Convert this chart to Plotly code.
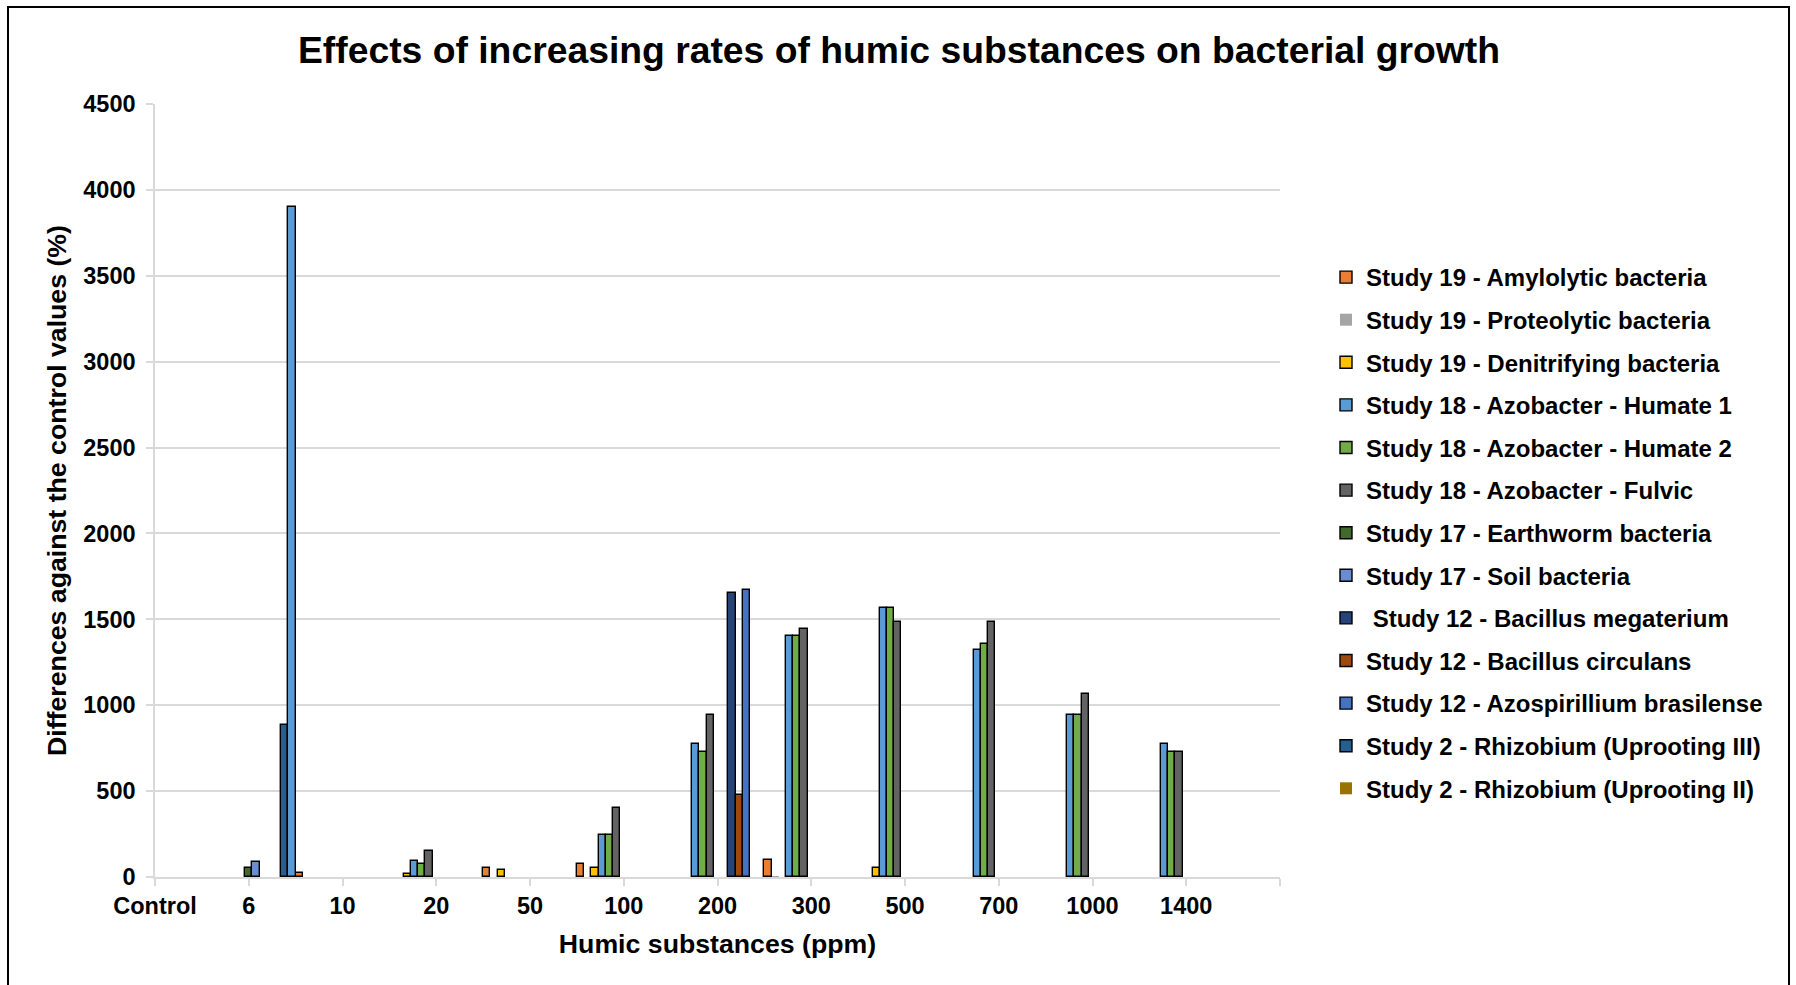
import plotly.graph_objects as go

categories = ["Control", "6", "10", "20", "50", "100", "200", "300", "500", "700", "1000", "1400"]

series_names = [
    "Study 19 - Amylolytic bacteria",
    "Study 19 - Proteolytic bacteria",
    "Study 19 - Denitrifying bacteria",
    "Study 18 - Azobacter - Humate 1",
    "Study 18 - Azobacter - Humate 2",
    "Study 18 - Azobacter - Fulvic",
    "Study 17 - Earthworm bacteria",
    "Study 17 - Soil bacteria",
    "\u00a0Study 12 - Bacillus megaterium",
    "Study 12 - Bacillus circulans",
    "Study 12 - Azospirillium brasilense",
    "Study 2 - Rhizobium (Uprooting III)",
    "Study 2 - Rhizobium (Uprooting II)",
]

N = None
amylolytic   = [N, N, 22, N, 50, 76, N, 99, N, N, N, N]
proteolytic  = [N, N, N, N, N, N, N, 4, N, N, N, N]
denitrifying = [N, N, N, 20, 39, 50, N, N, 50, N, N, N]
humate1      = [N, N, N, 91, N, 245, 776, 1403, 1568, 1319, 942, 776]
humate2      = [N, N, N, 78, N, 245, 730, 1403, 1568, 1358, 942, 730]
fulvic       = [N, N, N, 154, N, 399, 942, 1442, 1486, 1484, 1066, 730]
earthworm    = [N, 50, N, N, N, N, N, N, N, N, N, N]
soil         = [N, 86, N, N, N, N, N, N, N, N, N, N]
megaterium   = [N, N, N, N, N, N, 1656, N, N, N, N, N]
circulans    = [N, N, N, N, N, N, 477, N, N, N, N, N]
azospirillum = [N, N, N, N, N, N, 1669, N, N, N, N, N]
uprooting3   = [N, 883, N, N, N, N, N, N, N, N, N, N]
uprooting2   = [N, 3900, N, N, N, N, N, N, N, N, N, N]

series_values = [amylolytic, proteolytic, denitrifying, humate1, humate2, fulvic,
                 earthworm, soil, megaterium, circulans, azospirillum, uprooting3, uprooting2]

legend_colors = ["#ED7D31", "#A5A5A5", "#FFC000", "#5B9BD5", "#70AD47", "#636363",
                 "#43682B", "#698ED0", "#264478", "#9E480E", "#4472C4", "#255E91", "#997300"]
# colour actually used for the bar of the last series
uprooting2_bar_color = "#5B9BD5"
outlined = [True, False, True, True, True, True, True, True, True, True, True, True, False]

FONT = "Liberation Sans, Arial, sans-serif"
LW = 1.4

fig = go.Figure()
xs = list(range(len(categories)))
for i, (name, vals) in enumerate(zip(series_names, series_values)):
    if i == 12:
        colors = [legend_colors[i]] + [uprooting2_bar_color] * (len(vals) - 1)
        widths = [0] + [LW] * (len(vals) - 1)
        marker = dict(color=colors, line=dict(color="black", width=widths))
    else:
        marker = dict(color=legend_colors[i],
                      line=dict(color="black", width=LW if outlined[i] else 0))
    fig.add_trace(go.Bar(x=xs, y=vals, name=name, legendgroup=str(i), marker=marker))

W, H = 1796, 985
L, R, T, B = 155, 1280, 104, 877
pw, ph = R - L, B - T

def px(x):
    return (x - L) / pw

def py(y):
    return (B - y) / ph

fig.update_layout(
    width=W, height=H,
    margin=dict(l=L, r=W - R, t=T, b=H - B, pad=0),
    paper_bgcolor="white", plot_bgcolor="white",
    barmode="group", bargap=0, bargroupgap=0,
    font=dict(family=FONT, color="black", size=24, weight="bold"),
    title=dict(text="Effects of increasing rates of humic substances on bacterial growth",
               x=899 / W, xanchor="center", y=1 - 50 / H, yanchor="middle",
               font=dict(family=FONT, size=37.3, color="black", weight="bold")),
    xaxis=dict(
        tickmode="array", tickvals=list(range(len(categories) + 1)),
        ticktext=categories + [""],
        range=[0, len(categories)],
        ticks="outside", ticklen=7, tickwidth=1.5, tickcolor="#D9D9D9",
        showline=True, linecolor="#D9D9D9", linewidth=1.5,
        showgrid=False, zeroline=False,
        tickfont=dict(family=FONT, size=23.5, color="black", weight="bold"),
        title=dict(text="Humic substances (ppm)", standoff=16,
                   font=dict(family=FONT, size=26.7, color="black", weight="bold")),
    ),
    yaxis=dict(
        range=[0, 4500], dtick=500, tick0=0,
        ticks="outside", ticklen=7, tickwidth=1.5, tickcolor="#D9D9D9",
        showline=True, linecolor="#D9D9D9", linewidth=1.5,
        showgrid=True, gridcolor="#D9D9D9", gridwidth=1.5, zeroline=False,
        ticklabelstandoff=6,
        tickfont=dict(family=FONT, size=23.5, color="black", weight="bold"),
        title=dict(text="Differences against the control values (%)", standoff=9,
                   font=dict(family=FONT, size=26.7, color="black", weight="bold")),
    ),
    legend=dict(
        x=px(1326), xanchor="left", y=py(255), yanchor="top",
        font=dict(family=FONT, size=24, color="black", weight="bold"),
        tracegroupgap=8.4, traceorder="grouped", bgcolor="rgba(0,0,0,0)",
    ),
    shapes=[dict(type="rect", xref="paper", yref="paper",
                 x0=px(8), x1=px(1789), y0=py(7), y1=py(995),
                 line=dict(color="black", width=2), fillcolor="rgba(0,0,0,0)",
                 layer="below")],
)

fig.write_html("out.html")
